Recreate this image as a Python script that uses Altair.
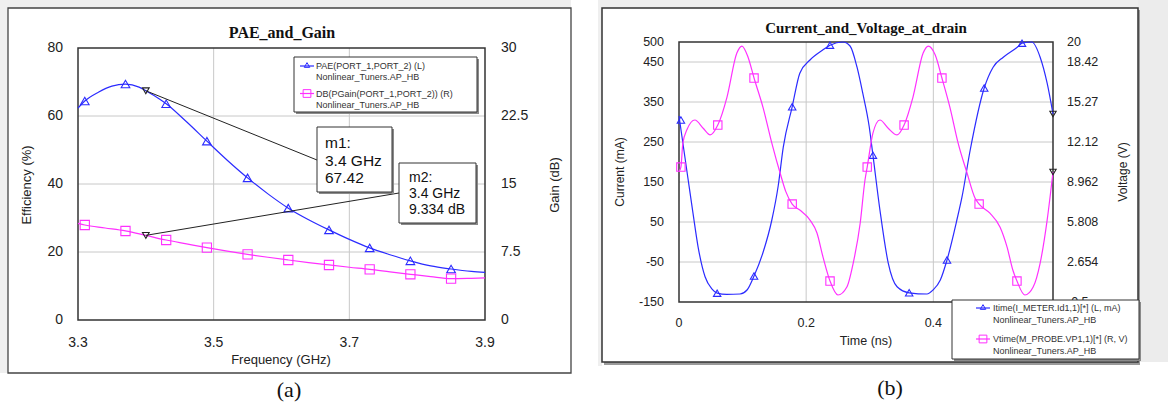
import altair as alt
import pandas as pd

# ---------------- Panel (a): PAE and Gain ----------------
freq_pae = [3.30, 3.31, 3.33, 3.35, 3.37, 3.39, 3.40, 3.42, 3.43, 3.46, 3.49, 3.52, 3.55,
            3.58, 3.61, 3.64, 3.67, 3.70, 3.73, 3.76, 3.79, 3.82, 3.85, 3.88, 3.90]
pae = [62.3, 64.4, 67.0, 68.8, 69.4, 68.5, 67.42, 65.0, 63.6, 58.3, 52.6, 47.0, 41.8,
       37.1, 32.9, 29.5, 26.5, 23.7, 21.2, 19.2, 17.4, 15.9, 15.0, 14.3, 14.0]
freq_gain = [3.30, 3.31, 3.34, 3.37, 3.40, 3.43, 3.46, 3.49, 3.52, 3.55, 3.58, 3.61, 3.64,
             3.67, 3.70, 3.73, 3.76, 3.79, 3.82, 3.85, 3.88, 3.90]
gain = [10.66, 10.48, 10.15, 9.82, 9.334, 8.82, 8.40, 7.98, 7.60, 7.24, 6.92, 6.62, 6.33,
        6.07, 5.82, 5.59, 5.31, 5.04, 4.78, 4.56, 4.60, 4.64]
marker_freq = [3.31, 3.37, 3.43, 3.49, 3.55, 3.61, 3.67, 3.73, 3.79, 3.85]
pae_markers = [64.4, 69.4, 63.6, 52.6, 41.8, 32.9, 26.5, 21.2, 17.4, 15.0]
gain_markers = [10.48, 9.82, 8.82, 7.98, 7.24, 6.62, 6.07, 5.59, 5.04, 4.56]
m_freq = [3.4]
m1_val = [67.42]
m2_val = [9.334]

a_xticks = [3.3, 3.5, 3.7, 3.9]
a_xtick_labels = ["3.3", "3.5", "3.7", "3.9"]
a_ylticks = [0, 20, 40, 60, 80]
a_yltick_labels = ["0", "20", "40", "60", "80"]
a_yrticks = [0, 7.5, 15, 22.5, 30]
a_yrtick_labels = ["0", "7.5", "15", "22.5", "30"]
a_xgrid = [3.5, 3.7]
a_ygrid = [20, 40, 60]

# ---------------- Panel (b): Current and Voltage ----------------
time_i = [0.000, 0.014, 0.022, 0.030, 0.041, 0.052, 0.060, 0.075, 0.096, 0.107, 0.118, 0.132,
          0.146, 0.156, 0.164, 0.178, 0.190, 0.206, 0.226, 0.2375, 0.258, 0.269, 0.280, 0.289,
          0.299, 0.305, 0.316, 0.329, 0.343, 0.362, 0.390, 0.3995, 0.411, 0.4215, 0.437, 0.445,
          0.458, 0.480, 0.494, 0.510, 0.532, 0.5395, 0.555, 0.568, 0.579, 0.5882]
current = [315, 160, 72, -12, -87, -118, -128, -131, -130, -120, -85, -27,
           55, 140, 237, 338, 422, 455, 480, 492, 500, 490, 437, 372,
           290, 217, 80, -52, -112, -127, -130, -120, -95, -45, 55, 112,
           230, 385, 437, 462, 487, 497, 500, 462, 397, 320]
time_v = [0.000, 0.003, 0.006, 0.0126, 0.025, 0.038, 0.049, 0.061, 0.0755, 0.091, 0.099, 0.1085,
          0.118, 0.132, 0.146, 0.159, 0.168, 0.178, 0.190, 0.206, 0.217, 0.2265, 0.2375, 0.250,
          0.264, 0.274, 0.285, 0.2925, 0.296, 0.305, 0.316, 0.329, 0.343, 0.354, 0.368, 0.384,
          0.392, 0.403, 0.4135, 0.426, 0.439, 0.453, 0.4655, 0.472, 0.489, 0.505, 0.516, 0.525,
          0.5315, 0.544, 0.557, 0.568, 0.579, 0.5882]
voltage = [9.8, 10.14, 12.0, 13.1, 13.85, 13.2, 12.67, 13.45, 15.66, 19.13, 19.68, 18.82,
           17.16, 14.87, 12.03, 9.67, 8.2, 7.22, 6.75, 5.96, 4.94, 3.04, 1.15, 0.05,
           0.68, 2.57, 5.73, 9.12, 10.14, 12.82, 13.85, 13.2, 12.67, 13.45, 15.66, 19.13,
           19.68, 18.97, 17.16, 14.87, 12.03, 9.67, 7.7, 7.22, 6.5, 5.4, 3.83, 2.02,
           1.15, 0.05, 0.68, 2.57, 5.96, 9.75]
i_marker_t = [0.003, 0.060, 0.118, 0.178, 0.2375, 0.305, 0.362, 0.4215, 0.480, 0.5395]
i_markers = [305, -128, -85, 338, 492, 217, -127, -45, 385, 497]
v_marker_t = [0.003, 0.061, 0.118, 0.178, 0.2375, 0.296, 0.354, 0.4135, 0.472, 0.5315]
v_markers = [10.14, 13.45, 17.16, 7.22, 1.15, 10.14, 13.45, 17.16, 7.22, 1.15]
end_t = [0.5882]
end_i = [320]
end_v = [9.75]

b_xticks = [0, 0.2, 0.4]
b_xtick_labels = ["0", "0.2", "0.4"]
b_ylticks = [-150, -50, 50, 150, 250, 350, 450, 500]
b_yltick_labels = ["-150", "-50", "50", "150", "250", "350", "450", "500"]
b_yrticks = [-0.5, 2.654, 5.808, 8.962, 12.12, 15.27, 18.42, 20]
b_yrtick_labels = ["-0.5", "2.654", "5.808", "8.962", "12.12", "15.27", "18.42", "20"]
b_xgrid = [0.2, 0.4]
b_ygrid = [-50, 50, 150, 250, 350, 450]

# ---------------- styling ----------------
SANS = "Liberation Sans"
SERIF = "Liberation Serif"
BLUE = "#2b2bff"
MAG = "#ff30ff"
GRID = "#c8c8c8"
TXT = "#222222"
ONE = pd.DataFrame({"k": [0]})


def sc(domain, rng):
    return alt.Scale(domain=domain, range=rng, nice=False, zero=False)


XA = lambda: sc([3.3, 3.9], [78, 485])
YAL = lambda: sc([0, 80], [320, 48])
YAR = lambda: sc([0, 30], [320, 48])
XB = lambda: sc([0, 0.5882], [679, 1053])
YBL = lambda: sc([-150, 500], [302, 42])
YBR = lambda: sc([-0.5, 20], [302, 42])


def rect(x1, y1, x2, y2, fill, stroke=None, sw=0, fill_opacity=1):
    kw = dict(fill=fill, fillOpacity=fill_opacity)
    if stroke:
        kw.update(stroke=stroke, strokeWidth=sw)
    return alt.Chart(ONE).mark_rect(**kw).encode(
        x=alt.value(x1), x2=alt.value(x2), y=alt.value(y1), y2=alt.value(y2))


def txt(s, x, y, size, font=SANS, weight="normal", color=TXT, align="center", angle=None):
    kw = dict(text=s, fontSize=size, font=font, fontWeight=weight, color=color,
              align=align, baseline="middle")
    if angle is not None:
        kw["angle"] = angle
    return alt.Chart(ONE).mark_text(**kw).encode(x=alt.value(x), y=alt.value(y))


def hline(x1, x2, y, color, sw=1.2):
    return alt.Chart(ONE).mark_rule(color=color, strokeWidth=sw).encode(
        x=alt.value(x1), x2=alt.value(x2), y=alt.value(y))


def sym(x, y, shape, color, size):
    return alt.Chart(ONE).mark_point(shape=shape, filled=False, color=color, size=size,
                                     strokeWidth=1, opacity=1).encode(x=alt.value(x), y=alt.value(y))


def tick_text(vals, labels, scale, fixed, size, align, on="y"):
    df = pd.DataFrame({"v": vals, "lab": labels})
    if on == "y":
        enc = dict(y=alt.Y("v:Q", scale=scale, axis=None), x=alt.value(fixed))
    else:
        enc = dict(x=alt.X("v:Q", scale=scale, axis=None), y=alt.value(fixed))
    return alt.Chart(df).mark_text(align=align, baseline="middle", fontSize=size, font=SANS,
                                   color=TXT).encode(text="lab:N", **enc)


def vgrid(vals, scale, y1, y2):
    return alt.Chart(pd.DataFrame({"v": vals})).mark_rule(color=GRID, strokeWidth=1).encode(
        x=alt.X("v:Q", scale=scale, axis=None), y=alt.value(y1), y2=alt.value(y2))


def hgrid(vals, scale, x1, x2):
    return alt.Chart(pd.DataFrame({"v": vals})).mark_rule(color=GRID, strokeWidth=1).encode(
        y=alt.Y("v:Q", scale=scale, axis=None), x=alt.value(x1), x2=alt.value(x2))


def curve(xs, ys, xscale, yscale, color):
    return alt.Chart(pd.DataFrame({"x": xs, "y": ys})).mark_line(
        color=color, strokeWidth=1.2, interpolate="monotone").encode(
        x=alt.X("x:Q", scale=xscale, axis=None), y=alt.Y("y:Q", scale=yscale, axis=None))


def pts(xs, ys, xscale, yscale, color, shape, size):
    return alt.Chart(pd.DataFrame({"x": xs, "y": ys})).mark_point(
        shape=shape, filled=False, color=color, size=size, strokeWidth=1.1, opacity=1).encode(
        x=alt.X("x:Q", scale=xscale, axis=None), y=alt.Y("y:Q", scale=yscale, axis=None))


L = []
# window background pieces
L += [rect(0, 0, 571, 8, "#efefef"), rect(0, 0, 8, 373, "#efefef"),
      rect(598, 0, 1168, 8, "#efefef"), rect(598, 0, 602, 366, "#efefef"),
      rect(1138, 0, 1168, 362, "#ececec")]
# frames
L += [rect(8, 8, 571, 373, "white", "#444444", 1.3)]
L += [rect(604, 10, 1140, 365, "#9a9a9a"), rect(602, 8, 1138, 362, "white", "#333333", 1.5)]

# ---------- Panel (a) ----------
L += [vgrid(a_xgrid, XA(), 48, 320), hgrid(a_ygrid, YAL(), 78, 485),
      rect(78, 48, 485, 320, "white", "#333333", 1.5, fill_opacity=0)]
L += [tick_text(a_ylticks, a_yltick_labels, YAL(), 63, 14, "right"),
      tick_text(a_yrticks, a_yrtick_labels, YAR(), 501, 14, "left"),
      tick_text(a_xticks, a_xtick_labels, XA(), 343, 14, "center", on="x")]
L += [txt("PAE_and_Gain", 282, 33, 16, font=SERIF, weight="bold", color="#111111"),
      txt("Efficiency (%)", 27, 185, 13, angle=270),
      txt("Gain (dB)", 555, 185, 13, angle=270),
      txt("Frequency (GHz)", 281, 360, 13),
      txt("(a)", 289, 390, 22, font=SERIF, color="#111111")]
L += [curve(freq_pae, pae, XA(), YAL(), BLUE),
      pts(marker_freq, pae_markers, XA(), YAL(), BLUE, "triangle-up", 75),
      curve(freq_gain, gain, XA(), YAR(), MAG),
      pts(marker_freq, gain_markers, XA(), YAR(), MAG, "square", 85)]
# marker leader lines and marker symbols
L += [alt.Chart(pd.DataFrame({"x": m_freq, "y": m1_val})).mark_rule(color="#222222", strokeWidth=1).encode(
          x=alt.X("x:Q", scale=XA(), axis=None), y=alt.Y("y:Q", scale=YAL(), axis=None),
          x2=alt.value(317), y2=alt.value(160)),
      alt.Chart(pd.DataFrame({"x": m_freq, "y": m2_val})).mark_rule(color="#222222", strokeWidth=1).encode(
          x=alt.X("x:Q", scale=XA(), axis=None), y=alt.Y("y:Q", scale=YAR(), axis=None),
          x2=alt.value(399), y2=alt.value(193)),
      pts(m_freq, m1_val, XA(), YAL(), "#222222", "triangle-down", 45),
      pts(m_freq, m2_val, XA(), YAR(), "#222222", "triangle-down", 45)]
# legend (a)
L += [rect(296, 59, 479, 114, "#8a8a8a"), rect(294, 57, 477, 112, "white", "#333333", 1),
      hline(300, 314, 66, BLUE), sym(307, 65, "triangle-up", BLUE, 30),
      txt("PAE(PORT_1,PORT_2) (L)", 316, 66, 9, align="left", color="#333333"),
      txt("Nonlinear_Tuners.AP_HB", 316, 77, 9, align="left", color="#333333"),
      hline(300, 314, 93.5, MAG), sym(307, 93.5, "square", MAG, 60),
      txt("DB(PGain(PORT_1,PORT_2)) (R)", 316, 93.5, 9, align="left", color="#333333"),
      txt("Nonlinear_Tuners.AP_HB", 316, 104.5, 9, align="left", color="#333333")]
# marker boxes
L += [rect(319, 129, 394, 194, "#8a8a8a"), rect(317, 127, 392, 192, "white", "#333333", 1),
      txt("m1:", 325, 143, 15.5, align="left", color="#111111"),
      txt("3.4 GHz", 325, 160.5, 15.5, align="left", color="#111111"),
      txt("67.42", 325, 178, 15.5, align="left", color="#111111")]
L += [rect(401, 165, 478, 225, "#8a8a8a"), rect(399, 163, 476, 223, "white", "#333333", 1),
      txt("m2:", 409, 178, 14, align="left", color="#111111"),
      txt("3.4 GHz", 409, 194, 14, align="left", color="#111111"),
      txt("9.334 dB", 409, 210, 14, align="left", color="#111111")]

# ---------- Panel (b) ----------
L += [vgrid(b_xgrid, XB(), 42, 302), hgrid(b_ygrid, YBL(), 679, 1053),
      rect(679, 42, 1053, 302, "white", "#333333", 1.5, fill_opacity=0)]
L += [tick_text(b_ylticks, b_yltick_labels, YBL(), 664, 12.5, "right"),
      tick_text(b_yrticks, b_yrtick_labels, YBR(), 1067, 12.5, "left"),
      tick_text(b_xticks, b_xtick_labels, XB(), 323, 12.5, "center", on="x")]
L += [txt("Current_and_Voltage_at_drain", 866, 28, 15, font=SERIF, weight="bold", color="#111111"),
      txt("Current (mA)", 620, 172, 12, angle=270),
      txt("Voltage (V)", 1123, 172, 12, angle=270),
      txt("Time (ns)", 866, 341, 12.5),
      txt("(b)", 890, 388, 22, font=SERIF, color="#111111")]
L += [curve(time_i, current, XB(), YBL(), BLUE),
      pts(i_marker_t, i_markers, XB(), YBL(), BLUE, "triangle-up", 55),
      curve(time_v, voltage, XB(), YBR(), MAG),
      pts(v_marker_t, v_markers, XB(), YBR(), MAG, "square", 70),
      pts(end_t, end_i, XB(), YBL(), "#222222", "triangle-down", 40),
      pts(end_t, end_v, XB(), YBR(), "#222222", "triangle-down", 40)]
# legend (b)
L += [rect(954, 302, 1141, 361, "#8a8a8a"), rect(952, 300, 1139, 359, "white", "#333333", 1),
      hline(976, 990, 308, BLUE), sym(983, 307, "triangle-up", BLUE, 30),
      txt("Itime(I_METER.Id1,1)[*] (L, mA)", 993, 308, 9, align="left", color="#333333"),
      txt("Nonlinear_Tuners.AP_HB", 993, 320, 9, align="left", color="#333333"),
      hline(976, 990, 339, MAG), sym(983, 339, "square", MAG, 60),
      txt("Vtime(M_PROBE.VP1,1)[*] (R, V)", 993, 339, 9, align="left", color="#333333"),
      txt("Nonlinear_Tuners.AP_HB", 993, 351, 9, align="left", color="#333333")]

chart = alt.layer(*L).resolve_scale(x="independent", y="independent").properties(
    width=1168, height=405, autosize=alt.AutoSizeParams(type="none"), padding=0,
    background="white").configure_view(stroke=None)

chart.save("out.html", embed_options={"renderer": "svg", "actions": False})
